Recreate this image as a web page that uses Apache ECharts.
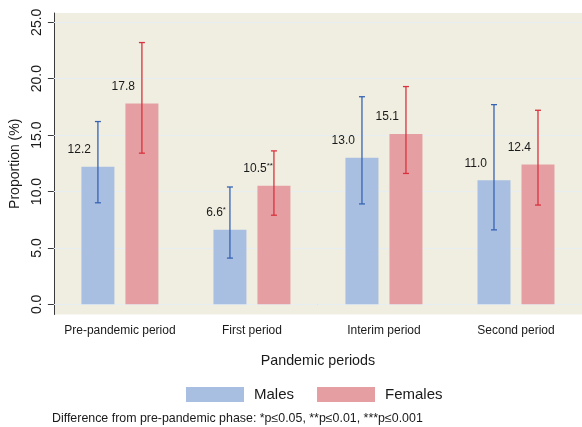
<!DOCTYPE html>
<html>
<head>
<meta charset="utf-8">
<script src="https://cdn.jsdelivr.net/npm/echarts@6/dist/echarts.min.js"></script>
<style>html,body{margin:0;padding:0;background:#fff}#c{width:582px;height:427px}</style>
</head>
<body>
<div id="c"></div>
<script>
const categories = ['Pre-pandemic period', 'First period', 'Interim period', 'Second period'];
const malesValues = [12.2, 6.6, 13.0, 11.0];
const femalesValues = [17.8, 10.5, 15.1, 12.4];
const malesLow = [9.0, 4.1, 8.9, 6.6];
const malesHigh = [16.2, 10.4, 18.4, 17.7];
const femalesLow = [13.4, 7.9, 11.6, 8.8];
const femalesHigh = [23.2, 13.6, 19.3, 17.2];
const malesStars = ['', '*', '', ''];
const femalesStars = ['', '**', '', ''];
const yTicks = [0, 5, 10, 15, 20, 25];

const FONT = '"Liberation Sans", Arial, sans-serif';
const BAR_W = 33, BAR_GAP = 11;

function barData(vals, stars) {
  return vals.map((v, i) => ({
    value: v,
    label: {
      formatter: stars[i] ? '{n|' + v.toFixed(1) + '}{s|' + stars[i] + '}' : '{n|' + v.toFixed(1) + '}',
      offset: [-7 + 3 * stars[i].length, -5]
    }
  }));
}

function errData(low, high) {
  return low.map((l, i) => [i, l, high[i]]);
}

function errSeries(name, data, color, side) {
  return {
    type: 'custom',
    name: name + ' CI',
    data: data,
    z: 5,
    silent: true,
    renderItem: function (params, api) {
      const x = api.value(0);
      const lo = api.coord([x, api.value(1)]);
      const hi = api.coord([x, api.value(2)]);
      const cx = lo[0] + side * (BAR_W + BAR_GAP) / 2;
      const cw = 3;
      const st = { stroke: color, lineWidth: 1.3 };
      return {
        type: 'group',
        children: [
          { type: 'line', shape: { x1: cx, y1: lo[1], x2: cx, y2: hi[1] }, style: st },
          { type: 'line', shape: { x1: cx - cw, y1: lo[1], x2: cx + cw, y2: lo[1] }, style: st },
          { type: 'line', shape: { x1: cx - cw, y1: hi[1], x2: cx + cw, y2: hi[1] }, style: st }
        ]
      };
    }
  };
}

const labelStyle = {
  show: true,
  position: 'top',
  align: 'right',
  color: '#1a1a1a',
  fontFamily: FONT,
  rich: {
    n: { fontSize: 12, fontFamily: FONT, color: '#1a1a1a', lineHeight: 14 },
    s: { fontSize: 8, fontFamily: FONT, color: '#1a1a1a', lineHeight: 14, verticalAlign: 'top', padding: [0, 0, 4, 0] }
  }
};

const chart = echarts.init(document.getElementById('c'), null, { renderer: 'canvas' });
chart.setOption({
  animation: false,
  backgroundColor: '#ffffff',
  textStyle: { fontFamily: FONT },
  title: [{
    text: 'Difference from pre-pandemic phase: *p\u22640.05, **p\u22640.01, ***p\u22640.001',
    left: 52, top: 413, padding: 0,
    textStyle: { fontSize: 12.4, fontWeight: 'normal', color: '#1a1a1a', fontFamily: FONT }
  }],
  legend: {
    data: ['Males', 'Females'],
    left: 181,
    top: 382,
    itemWidth: 58,
    itemHeight: 15,
    itemGap: 23,
    textStyle: { fontSize: 15, color: '#1a1a1a', fontFamily: FONT, padding: [0, 0, 0, 5] },
    icon: 'rect'
  },
  grid: {
    left: 49, right: 0, top: 13, bottom: 112.5,
    show: true, backgroundColor: '#F0EEE1', borderWidth: 0
  },
  xAxis: {
    type: 'category',
    data: categories,
    name: 'Pandemic periods',
    nameLocation: 'middle',
    nameGap: 40,
    nameTextStyle: { fontSize: 14.3, color: '#1a1a1a', fontFamily: FONT },
    axisLine: { lineStyle: { color: '#3a3a3a', width: 1 } },
    axisTick: { alignWithLabel: true, length: 5, lineStyle: { color: '#3a3a3a' } },
    axisLabel: { fontSize: 12, color: '#1a1a1a', margin: 10, fontFamily: FONT, interval: 0 },
    splitLine: { show: false }
  },
  yAxis: {
    type: 'value',
    min: -0.9,
    max: 25.82,
    name: 'Proportion (%)',
    nameLocation: 'middle',
    nameGap: 27,
    nameTextStyle: { fontSize: 14, color: '#1a1a1a', fontFamily: FONT },
    axisLine: { show: true, lineStyle: { color: '#3a3a3a', width: 1 } },
    axisTick: { show: true, length: 6, customValues: yTicks, lineStyle: { color: '#3a3a3a' } },
    axisLabel: {
      rotate: 90, fontSize: 14, color: '#1a1a1a', margin: 10, fontFamily: FONT,
      customValues: yTicks,
      formatter: v => Number(v).toFixed(1)
    },
    splitLine: { show: false }
  },
  series: [
    {
      type: 'bar', name: 'Males',
      data: barData(malesValues, malesStars),
      barWidth: BAR_W, barGap: (BAR_GAP / BAR_W * 100) + '%',
      itemStyle: { color: '#A9BFE1' },
      label: labelStyle,
      markLine: {
        silent: true, symbol: 'none', label: { show: false },
        lineStyle: { color: '#E6EEF3', width: 1, type: 'solid' },
        data: yTicks.map(t => ({ yAxis: t })),
        z: 1
      },
      z: 2
    },
    {
      type: 'bar', name: 'Females',
      data: barData(femalesValues, femalesStars),
      barWidth: BAR_W,
      itemStyle: { color: '#E59FA2' },
      label: labelStyle,
      z: 2
    },
    errSeries('Males', errData(malesLow, malesHigh), '#3763B3', -1),
    errSeries('Females', errData(femalesLow, femalesHigh), '#D9323E', 1)
  ]
});
</script>
</body>
</html>
